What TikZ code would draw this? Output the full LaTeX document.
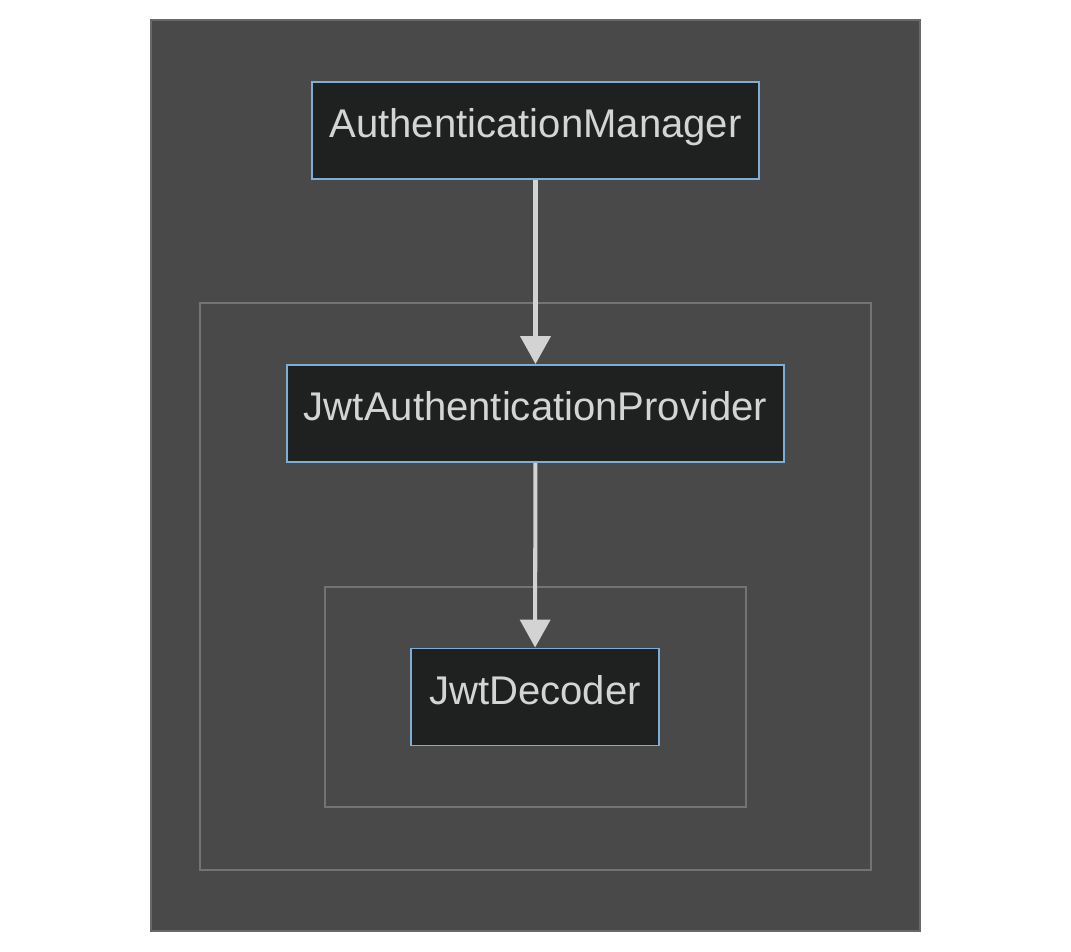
\documentclass[tikz,border=0pt]{standalone}
\usepackage{fontspec}
\setmainfont{Liberation Sans}
\usetikzlibrary{arrows.meta}
\definecolor{panelbg}{HTML}{484948}
\definecolor{panelline}{HTML}{686868}
\definecolor{groupline}{HTML}{737373}
\definecolor{boxfill}{HTML}{1F2020}
\definecolor{boxline}{HTML}{7EAED8}
\definecolor{boxtext}{HTML}{D4D4D4}
\definecolor{flowline}{HTML}{D3D3D3}
\tikzset{
  classbox/.style={draw=boxline,fill=boxfill,line width=1.1pt,text=boxtext,
    minimum height=1.94cm,inner sep=0pt,text height=0.6cm,text depth=0.3cm,
    font=\fontsize{22.8}{27}\selectfont},
  group/.style={draw=groupline,line width=1.1pt},
  flow/.style={draw=flowline,line width=2.3pt,-{Triangle[width=0.6cm,length=0.56cm]}}
}
\begin{document}
\begin{tikzpicture}[x=0.02cm,y=-0.02cm]
			\useasboundingbox[fill=white] (0,0) rectangle (1071,952);
			\draw[fill=panelbg,draw=panelline,line width=1.1pt] (151,20) rectangle (920,931);
			\draw[group] (200,303) rectangle (871,870);
			\draw[group] (325,587) rectangle (746,807);
			\node[classbox,minimum width=8.94cm] (manager) at (535.5,130.5) {AuthenticationManager};
			\node[classbox,minimum width=9.94cm] (provider) at (535.5,413.5) {JwtAuthenticationProvider};
			\node[classbox,minimum width=4.96cm] (decoder) at (535,697) {JwtDecoder};
			\draw[flow] (manager) -- (provider);
			\draw[flow] (provider) -- (decoder);
		\end{tikzpicture}
\end{document}
